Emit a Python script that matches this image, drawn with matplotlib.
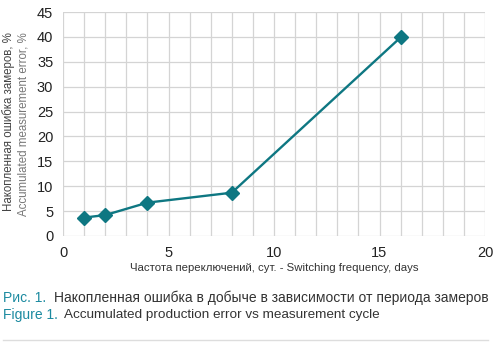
import matplotlib.pyplot as plt
from matplotlib.lines import Line2D

plt.rcParams['font.family'] = ['Liberation Sans', 'DejaVu Sans']

freq_days = [1, 2, 4, 8, 16]
error_pct = [3.7, 4.2, 6.7, 8.7, 39.9]

x_ticks = [0, 5, 10, 15, 20]
y_ticks = [0, 5, 10, 15, 20, 25, 30, 35, 40, 45]

teal = '#0e7782'
grid_c = '#d4d4d4'

fig = plt.figure(figsize=(5.0, 3.49), dpi=100, facecolor='white')
ax = fig.add_axes([0.126, 0.3238, 0.844, 0.6418])

ax.plot(freq_days, error_pct, color=teal, linewidth=1.7, marker='D',
        markersize=7.5, markerfacecolor=teal, markeredgecolor=teal, zorder=5)

ax.set_xlim(0, 20)
ax.set_ylim(0, 45)
ax.set_xticks(x_ticks)
ax.set_yticks(y_ticks)
ax.set_xticks(range(0, 21), minor=True)
ax.grid(True, which='both', axis='x', color=grid_c, linewidth=0.9)
ax.grid(True, which='major', axis='y', color=grid_c, linewidth=0.9)
ax.tick_params(which='both', length=0, labelsize=10.5, colors='#222222', pad=7)
for s in ax.spines.values():
    s.set_visible(False)

# two-line y label
fig.text(0.018, 0.908, 'Накопленная ошибка замеров, %', rotation=90,
         ha='center', va='top', fontsize=8.3, color='#444444')
fig.text(0.047, 0.908, 'Accumulated measurement error, %', rotation=90,
         ha='center', va='top', fontsize=8.3, color='#777777')

fig.text(0.548, 0.232, 'Частота переключений, сут. - Switching frequency, days',
         ha='center', va='center', fontsize=8.2, color='#333333')

# caption
fig.text(0.006, 0.146, 'Рис. 1.', ha='left', va='center', fontsize=10,
         color='#1b8aa0')
fig.text(0.107, 0.146, 'Накопленная ошибка в добыче в зависимости от периода замеров',
         ha='left', va='center', fontsize=10, color='#333333')
fig.text(0.006, 0.097, 'Figure 1.', ha='left', va='center', fontsize=10,
         color='#1b8aa0')
fig.text(0.129, 0.097, 'Accumulated production error vs measurement cycle',
         ha='left', va='center', fontsize=9.7, color='#333333')

fig.add_artist(Line2D([0.006, 0.976], [0.026, 0.026], color='#dddddd',
                      linewidth=1.0, transform=fig.transFigure))

fig.savefig('out.png', dpi=100, facecolor='white')
